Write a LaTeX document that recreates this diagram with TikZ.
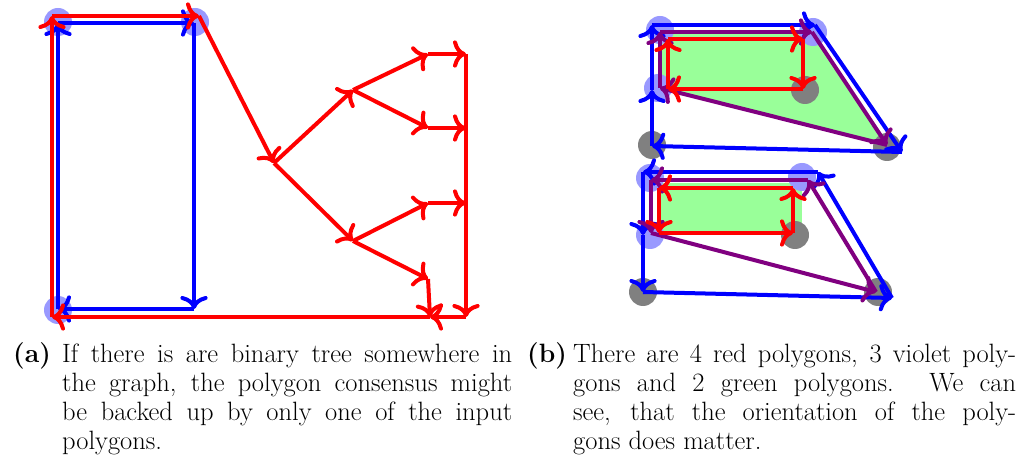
\documentclass[tikz,border=0pt]{standalone}
\usetikzlibrary{arrows.meta}
\definecolor{mviolet}{RGB}{128,0,128}
\definecolor{lblue}{RGB}{153,153,255}
\definecolor{lgreen}{RGB}{153,255,153}
\definecolor{mgray}{RGB}{128,128,128}
\begin{document}
\begin{tikzpicture}[x=1pt,y=-1pt,
  tip/.style={-{To[scale=1.25]}},
  redge/.style={tip,line width=4pt,draw=red},
  bedge/.style={tip,line width=4pt,draw=blue},
  vedge/.style={tip,line width=4pt,draw=mviolet},
  bdot/.style={fill=lblue},
  gdot/.style={fill=mgray},
  caplabel/.style={inner sep=0pt,anchor=base west,font=\fontsize{26.5}{29}\selectfont\bfseries},
  captext/.style={inner sep=0pt,anchor=base west,align=justify,font=\fontsize{26.5}{29}\selectfont}]
\useasboundingbox (0,0) rectangle (1023,465);

% ---------------- (a) ----------------
\coordinate (A) at (52,317);
\coordinate (B) at (52,16);
\coordinate (C) at (199,16);
\coordinate (D) at (274,163);
\coordinate (E) at (353,90);
\coordinate (F) at (353,241);
\coordinate (G) at (428,54);
\coordinate (H) at (428,128);
\coordinate (I) at (428,203);
\coordinate (J) at (428,279);
\coordinate (G2) at (466,54);
\coordinate (H2) at (466,128);
\coordinate (I2) at (466,203);
\coordinate (K) at (466,317);
\coordinate (L) at (430,317);
\coordinate (aBL) at (58,309);
\coordinate (aTL) at (58,23);
\coordinate (aTR) at (194,23);
\coordinate (aBR) at (194,309);

\fill[bdot] (58,22) circle[radius=14pt];
\fill[bdot] (195,22) circle[radius=14pt];
\fill[bdot] (58,310) circle[radius=14pt];

\draw[bedge] (aBL) -- (aTL);
\draw[bedge] (aTL) -- (aTR);
\draw[bedge] (aTR) -- (aBR);
\draw[bedge] (aBR) -- (aBL);

\draw[redge] (A) -- (B);
\draw[redge] (B) -- (C);
\draw[redge] (C) -- (D);
\draw[redge] (D) -- (E);
\draw[redge] (D) -- (F);
\draw[redge] (E) -- (G);
\draw[redge] (E) -- (H);
\draw[redge] (F) -- (I);
\draw[redge] (F) -- (J);
\draw[redge] (G) -- (G2);
\draw[redge] (H) -- (H2);
\draw[redge] (I) -- (I2);
\draw[redge] (G2) -- (K);
\draw[redge] (J) -- (L);
\draw[redge] (K) -- (L);
\draw[redge] (L) -- (A);

% ---------------- (b) top ----------------
\coordinate (tbBL) at (652,146);
\coordinate (tbLM) at (652,90);
\coordinate (tbTL) at (652,25);
\coordinate (tbTR) at (815,25);
\coordinate (tbBR) at (902,152);
\coordinate (tvLM) at (660,88);
\coordinate (tvTL) at (660,32);
\coordinate (tvTR) at (812,32);
\coordinate (tvBR) at (887,145);
\coordinate (trBL) at (668,89);
\coordinate (trTL) at (668,39);
\coordinate (trTR) at (803,39);
\coordinate (trBR) at (803,89);

\fill[lgreen] (tvLM) -- (tvTL) -- (tvTR) -- (tvBR) -- cycle;
\fill[gdot] (805,90) circle[radius=14pt];
\fill[gdot] (652,145) circle[radius=14pt];
\fill[gdot] (887,147) circle[radius=14pt];
\fill[bdot] (660,30) circle[radius=14pt];
\fill[bdot] (813,32) circle[radius=14pt];
\fill[bdot] (658,88) circle[radius=14pt];

\draw[bedge] (tbBL) -- (tbLM);
\draw[bedge] (tbLM) -- (tbTL);
\draw[bedge] (tbTL) -- (tbTR);
\draw[bedge] (tbTR) -- (tbBR);
\draw[bedge] (tbBR) -- (tbBL);
\draw[vedge] (tvLM) -- (tvTL);
\draw[vedge] (tvTL) -- (tvTR);
\draw[vedge] (tvTR) -- (tvBR);
\draw[vedge] (tvBR) -- (tvLM);
\draw[redge] (trBL) -- (trTL);
\draw[redge] (trTL) -- (trTR);
\draw[redge] (trTR) -- (trBR);
\draw[redge] (trBR) -- (trBL);

% ---------------- (b) bottom ----------------
\coordinate (bbTL) at (643,172);
\coordinate (bbLM) at (643,235);
\coordinate (bbBL) at (643,292);
\coordinate (bbBR) at (892,298);
\coordinate (bbTR) at (818,172);
\coordinate (bvTL) at (651,180);
\coordinate (bvLM) at (651,233);
\coordinate (bvBR) at (876,292);
\coordinate (bvTR) at (808,180);
\coordinate (brTL) at (659,188);
\coordinate (brTR) at (793,188);
\coordinate (brBR) at (793,233);
\coordinate (brBL) at (659,233);

\fill[lgreen] (660,183) rectangle (802,233);
\fill[gdot] (795,235) circle[radius=14pt];
\fill[gdot] (643,292) circle[radius=14pt];
\fill[gdot] (878,292) circle[radius=14pt];
\fill[bdot] (650,178) circle[radius=14pt];
\fill[bdot] (802,177) circle[radius=14pt];
\fill[bdot] (650,235) circle[radius=14pt];

\draw[bedge] (bbBL) -- (bbBR);
\draw[bedge] (bbBR) -- (bbTR);
\draw[bedge] (bbTR) -- (bbTL);
\draw[bedge] (bbTL) -- (bbLM);
\draw[bedge] (bbLM) -- (bbBL);
\draw[vedge] (bvTL) -- (bvLM);
\draw[vedge] (bvLM) -- (bvBR);
\draw[vedge] (bvBR) -- (bvTR);
\draw[vedge] (bvTR) -- (bvTL);
\draw[redge] (brBL) -- (brBR);
\draw[redge] (brBR) -- (brTR);
\draw[redge] (brTR) -- (brTL);
\draw[redge] (brTL) -- (brBL);

% ---------------- captions ----------------
\node[caplabel] (la) at (13,362) {(a)};
\node[captext,text width=450pt] (ta) at (62,362)
  {If there is are binary tree somewhere in\linebreak
   the graph, the polygon consensus might\linebreak
   be backed up by only one of the input\linebreak
   polygons.};
\node[caplabel] (lb) at (527,362) {(b)};
\node[captext,text width=443pt] (tb) at (573,362)
  {There are 4 red polygons, 3 violet poly-\linebreak
   gons and 2 green polygons. We can\linebreak
   see, that the orientation of the poly-\linebreak
   gons does matter.};
\end{tikzpicture}
\end{document}
